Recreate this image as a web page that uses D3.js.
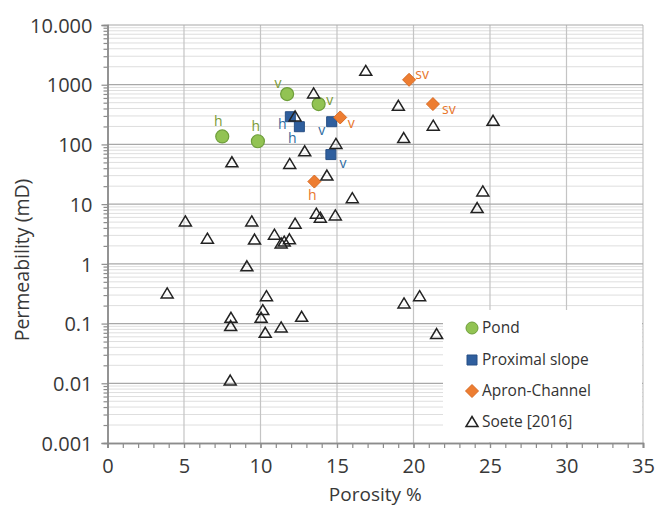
<!DOCTYPE html>
<html>
<head>
<meta charset="utf-8">
<script src="https://cdn.jsdelivr.net/npm/d3@7"></script>
<style>
  html, body { margin: 0; padding: 0; background: #fff; }
  svg { display: block; }
  text { font-family: "Open Sans", sans-serif; }
</style>
</head>
<body>
<script>
// ---------- DATA ----------
const seriesNames = ["Pond", "Proximal slope", "Apron-Channel", "Soete [2016]"];

const pondPorosity = [11.74, 13.8, 7.5, 9.83];
const pondPerm     = [697, 474, 136, 113];
const pondLabels   = ["v", "v", "h", "h"];

const proxPorosity = [11.95, 12.54, 14.65, 14.6];
const proxPerm     = [291, 198, 240, 67.6];
const proxLabels   = ["h", "h", "v", "v"];

const apronPorosity = [15.21, 13.52, 19.71, 21.27];
const apronPerm     = [283, 23.9, 1208, 474];
const apronLabels   = ["v", "h", "sv", "sv"];

const soetePorosity = [16.88, 13.47, 12.26, 14.93, 12.89, 8.13, 11.91, 14.34, 16.0,
  19.01, 21.29, 25.2, 19.36, 24.53, 24.16,
  5.09, 9.43, 12.26, 13.65, 13.91, 14.89, 6.53, 9.61, 10.91, 11.89, 11.35, 11.55,
  9.11, 3.9, 10.39, 10.15, 10.04, 8.07, 8.05, 12.69, 11.35, 10.31, 8.02,
  20.4, 19.38, 21.51];
const soetePerm = [1706, 713, 294, 102, 76.7, 50.3, 47.2, 30.1, 12.6,
  444, 206, 249, 128, 16.3, 8.6,
  5.14, 5.14, 4.71, 6.92, 5.93, 6.47, 2.64, 2.55, 3.08, 2.58, 2.2, 2.36,
  0.91, 0.319, 0.288, 0.168, 0.125, 0.125, 0.091, 0.130, 0.086, 0.070, 0.0111,
  0.288, 0.217, 0.0668];

const xTicks = [0, 5, 10, 15, 20, 25, 30, 35];
const yTicks = [0.001, 0.01, 0.1, 1, 10, 100, 1000, 10000];
const yTickLabels = ["0.001", "0.01", "0.1", "1", "10", "100", "1000", "10.000"];
const xTitle = "Porosity %";
const yTitle = "Permeability (mD)";

// ---------- LAYOUT / STYLE ----------
const W = 655, H = 507;
const plot = { left: 107.5, right: 643, top: 25, bottom: 443 };

// label offsets (pixels) relative to each marker, per series
const pondLabelOff  = [[-9, -11], [11, -4], [-4, -15], [-2, -15]];
const proxLabelOff  = [[-8, 8], [-7, 12], [-10, 9], [12, 9]];
const apronLabelOff = [[11, 6], [-2, 14], [13, -5], [16, 5]];

const colors = {
  pondFill: "#92C353", pondStroke: "#6E9E3A", pondText: "#7A9A35",
  proxFill: "#2F5F9E", proxStroke: "#274F84", proxText: "#2E6AA0",
  apronFill: "#ED7D31", apronStroke: "#D86A22", apronText: "#E8762D",
  tri: "#222"
};

const svg = d3.select("body").append("svg").attr("width", W).attr("height", H);

const x = d3.scaleLinear().domain([0, 35]).range([plot.left, plot.right]);
const y = d3.scaleLog().domain([0.001, 10000]).range([plot.bottom, plot.top]);

// minor values for log grid
const minorY = [];
for (let e = -3; e < 4; e++) for (let m = 2; m <= 9; m++) minorY.push(m * Math.pow(10, e));

const grid = svg.append("g");
grid.selectAll("line.minor").data(minorY).join("line")
  .attr("x1", plot.left).attr("x2", plot.right)
  .attr("y1", d => y(d)).attr("y2", d => y(d))
  .attr("stroke", "#dedede").attr("stroke-width", 1);
grid.selectAll("line.vmaj").data(xTicks.slice(1)).join("line")
  .attr("x1", d => x(d)).attr("x2", d => x(d))
  .attr("y1", plot.top).attr("y2", plot.bottom)
  .attr("stroke", "#c4c4c4").attr("stroke-width", 1.2);
grid.selectAll("line.hmaj").data(yTicks.slice(1)).join("line")
  .attr("x1", plot.left).attr("x2", plot.right)
  .attr("y1", d => y(d)).attr("y2", d => y(d))
  .attr("stroke", "#a8a8a8").attr("stroke-width", 1.2);

// Axes
const xAxisMinor = d3.axisBottom(x).tickValues(d3.range(0, 36, 1)).tickSize(5).tickFormat("");
const gxm = svg.append("g").attr("transform", `translate(0,${plot.bottom})`).call(xAxisMinor);
const xAxis = d3.axisBottom(x).tickValues(xTicks).tickSize(5).tickPadding(11).tickFormat(d3.format("d"));
const gx = svg.append("g").attr("transform", `translate(0,${plot.bottom})`).call(xAxis);

const yAxisMinor = d3.axisLeft(y).tickValues(minorY).tickSize(4).tickFormat("");
const gym = svg.append("g").attr("transform", `translate(${plot.left},0)`).call(yAxisMinor);
const yAxis = d3.axisLeft(y).tickValues(yTicks).tickSize(6).tickPadding(9)
  .tickFormat((d, i) => yTickLabels[i]);
const gy = svg.append("g").attr("transform", `translate(${plot.left},0)`).call(yAxis);

[gx, gxm, gy, gym].forEach(g => {
  g.selectAll(".domain").attr("stroke", "#8c8c8c").attr("stroke-width", 1.5);
  g.selectAll(".tick line").attr("stroke", "#8c8c8c").attr("stroke-width", 1.2);
  g.selectAll(".tick text").attr("fill", "#383838").style("font-size", "20px")
    .style("font-family", "'Open Sans', sans-serif");
});
gy.selectAll(".tick text").attr("dy", "0.36em");

svg.append("text").attr("x", (plot.left + plot.right) / 2).attr("y", 501)
  .attr("text-anchor", "middle").attr("fill", "#383838").style("font-size", "19px").text(xTitle);
svg.append("text").attr("transform", "translate(29,260) rotate(-90)")
  .attr("text-anchor", "middle").attr("fill", "#383838").style("font-size", "19.5px").text(yTitle);

// Legend background (covers grid)
const legend = svg.append("g");
legend.append("rect").attr("x", 443).attr("y", 310).attr("width", 199).attr("height", 132)
  .attr("fill", "#fff");

// marker shape generators
const triPath = "M0,-5.5L6,4.5L-6,4.5Z";
const sqPath = "M-5,-5H5V5H-5Z";
const diaPath = "M0,-6.5L6.5,0L0,6.5L-6.5,0Z";

function zip(a, b, c, o) { return a.map((v, i) => ({ x: v, y: b[i], lab: c ? c[i] : null, off: o ? o[i] : null })); }

const pond = zip(pondPorosity, pondPerm, pondLabels, pondLabelOff);
const prox = zip(proxPorosity, proxPerm, proxLabels, proxLabelOff);
const apron = zip(apronPorosity, apronPerm, apronLabels, apronLabelOff);
const soete = zip(soetePorosity, soetePerm);

const marks = svg.append("g");
marks.selectAll("circle.pond").data(pond).join("circle")
  .attr("cx", d => x(d.x)).attr("cy", d => y(d.y)).attr("r", 6.5)
  .attr("fill", colors.pondFill).attr("stroke", colors.pondStroke).attr("stroke-width", 1.2);
marks.selectAll("path.prox").data(prox).join("path")
  .attr("d", sqPath).attr("transform", d => `translate(${x(d.x)},${y(d.y)})`)
  .attr("fill", colors.proxFill).attr("stroke", colors.proxStroke).attr("stroke-width", 1);
marks.selectAll("path.apron").data(apron).join("path")
  .attr("d", diaPath).attr("transform", d => `translate(${x(d.x)},${y(d.y)})`)
  .attr("fill", colors.apronFill).attr("stroke", colors.apronStroke).attr("stroke-width", 1);
marks.selectAll("path.soete").data(soete).join("path")
  .attr("d", triPath).attr("transform", d => `translate(${x(d.x)},${y(d.y)})`)
  .attr("fill", "none").attr("stroke", colors.tri).attr("stroke-width", 1.5);

function labelLayer(data, color) {
  svg.append("g").selectAll("text").data(data).join("text")
    .attr("x", d => x(d.x) + d.off[0]).attr("y", d => y(d.y) + d.off[1])
    .attr("dy", "0.32em").attr("text-anchor", "middle")
    .attr("fill", color).style("font-size", "14px").text(d => d.lab);
}
labelLayer(pond, colors.pondText);
labelLayer(prox, colors.proxText);
labelLayer(apron, colors.apronText);

// Legend entries
const legY = [328, 360, 391, 422];
const lg = legend.selectAll("g.item").data(seriesNames).join("g")
  .attr("transform", (d, i) => `translate(472,${legY[i]})`);
lg.each(function (d, i) {
  const g = d3.select(this);
  if (i === 0) g.append("circle").attr("r", 6).attr("fill", colors.pondFill).attr("stroke", colors.pondStroke);
  if (i === 1) g.append("path").attr("d", sqPath).attr("fill", colors.proxFill).attr("stroke", colors.proxStroke);
  if (i === 2) g.append("path").attr("d", diaPath).attr("fill", colors.apronFill).attr("stroke", colors.apronStroke);
  if (i === 3) g.append("path").attr("d", triPath).attr("fill", "none").attr("stroke", colors.tri).attr("stroke-width", 1.5);
  g.append("text").attr("x", 10).attr("dy", "0.35em").attr("fill", "#333")
    .style("font-size", "15.5px").text(d);
});
</script>
</body>
</html>
